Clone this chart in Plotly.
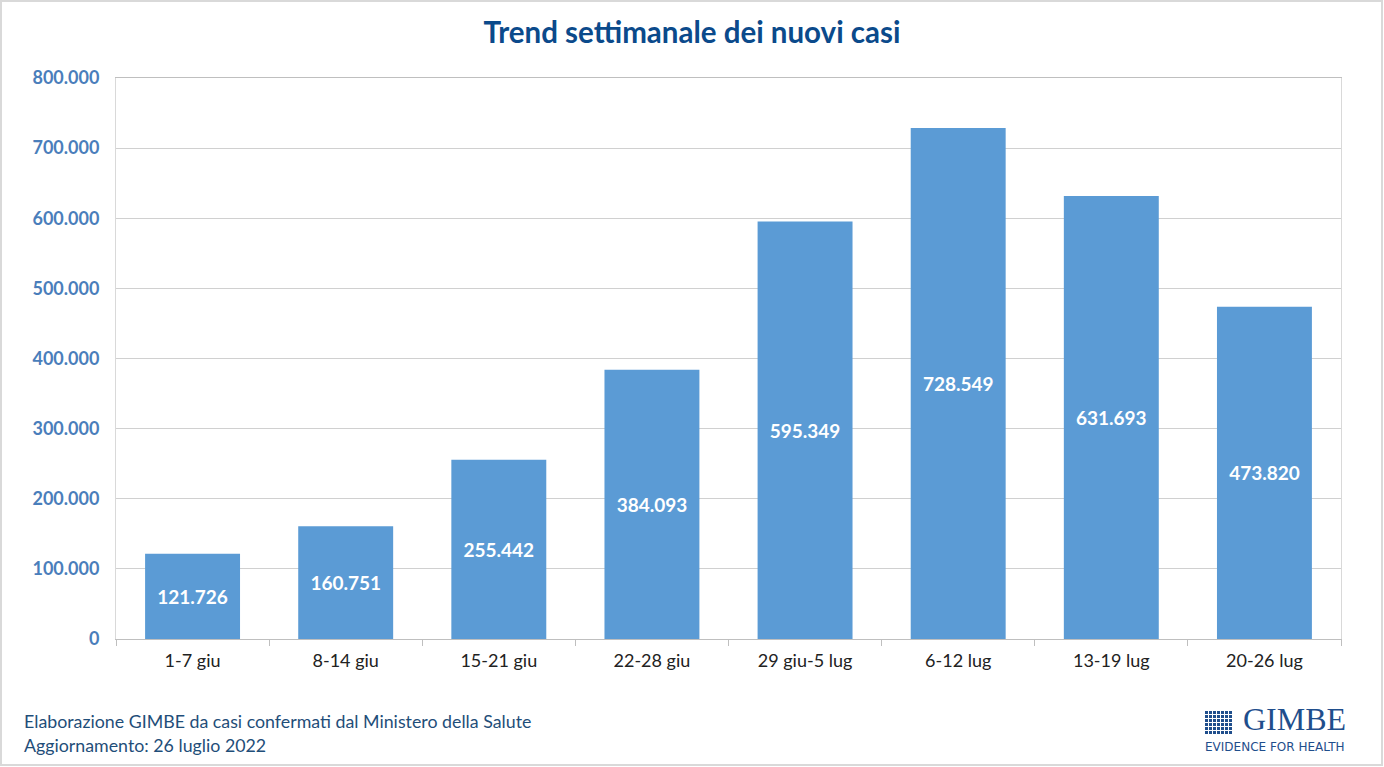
import plotly.graph_objects as go

categories = ["1-7 giu", "8-14 giu", "15-21 giu", "22-28 giu", "29 giu-5 lug", "6-12 lug", "13-19 lug", "20-26 lug"]
new_cases = [121726, 160751, 255442, 384093, 595349, 728549, 631693, 473820]
y_ticks = [0, 100000, 200000, 300000, 400000, 500000, 600000, 700000, 800000]

W, H = 1384, 767
L, R, T, B = 116, 43, 78, 128
pw, ph = W - L - R, H - T - B

def px(x):
    return (x - L) / pw

def py(y):
    return (H - B - y) / ph

FONT = "Lato"
fig = go.Figure()
fig.add_trace(go.Bar(
    x=categories, y=new_cases,
    marker=dict(color="#5B9BD5", line=dict(width=0)),
    texttemplate="%{y:,d}", textposition="inside", insidetextanchor="middle",
    textfont=dict(family=FONT, size=19, color="white", weight="bold"),
    textangle=0, hoverinfo="skip",
))

shapes = [
    dict(type="rect", xref="paper", yref="paper", x0=px(1), x1=px(1382), y0=py(765), y1=py(1),
         line=dict(color="#D9D9D9", width=2), layer="below"),
]
gx0, gy0, cell = 1205, 711, 4
for r in range(6):
    for c in range(7):
        shapes.append(dict(type="rect", xref="paper", yref="paper",
                           x0=px(gx0 + c * cell), x1=px(gx0 + c * cell + 3),
                           y0=py(gy0 + r * cell + 3), y1=py(gy0 + r * cell),
                           fillcolor="#1F4E8C", line=dict(width=0)))

annotations = [
    dict(text="Elaborazione GIMBE da casi confermati dal Ministero della Salute",
         xref="paper", yref="paper", x=px(22), y=py(721), xanchor="left", yanchor="middle",
         showarrow=False, font=dict(family=FONT, size=17.8, color="#1F4E79")),
    dict(text="Aggiornamento: 26 luglio 2022",
         xref="paper", yref="paper", x=px(22), y=py(745), xanchor="left", yanchor="middle",
         showarrow=False, font=dict(family=FONT, size=17.8, color="#1F4E79")),
    dict(text="GIMBE", xref="paper", yref="paper", x=px(1347), y=py(738), xanchor="right", yanchor="bottom",
         showarrow=False, borderpad=0, font=dict(family="Liberation Serif", size=32, color="#1F4E8C")),
    dict(text="EVIDENCE FOR HEALTH", xref="paper", yref="paper", x=px(1346), y=py(739), xanchor="right", yanchor="top",
         showarrow=False, borderpad=0, font=dict(family="DejaVu Sans", size=12, color="#1F4E8C")),
]

fig.update_layout(
    width=W, height=H,
    margin=dict(l=L, r=R, t=T, b=B),
    paper_bgcolor="white", plot_bgcolor="white",
    separators=",.",
    title=dict(text="<b>Trend settimanale dei nuovi casi</b>", x=0.5, xref="container", xanchor="center",
               y=1 - 33 / H, yanchor="middle",
               font=dict(family=FONT, size=29.5, color="#0B4A8B")),
    bargap=0.38,
    showlegend=False,
    shapes=shapes,
    annotations=annotations,
    font=dict(family=FONT),
)
fig.update_xaxes(
    type="category", showline=True, linecolor="#BFBFBF", linewidth=1, mirror=True,
    ticks="outside", tickson="boundaries", ticklen=6, tickcolor="#BFBFBF",
    ticklabelstandoff=5,
    tickfont=dict(family=FONT, size=18, color="#222222"), showgrid=False,
)
fig.update_yaxes(
    range=[0, 800000], tickvals=y_ticks, tickformat=",d",
    showline=True, linecolor="#D9D9D9", linewidth=1, mirror=True,
    showgrid=True, gridcolor="#D0D0D0", gridwidth=1, zeroline=False,
    ticks="", ticklabelstandoff=12,
    tickfont=dict(family=FONT, size=18, color="#4A7EBB", weight="bold"),
)

fig.write_html("out.html", config={"displayModeBar": False},
               post_script="document.body.style.margin='0px';document.body.style.overflow='hidden';")
